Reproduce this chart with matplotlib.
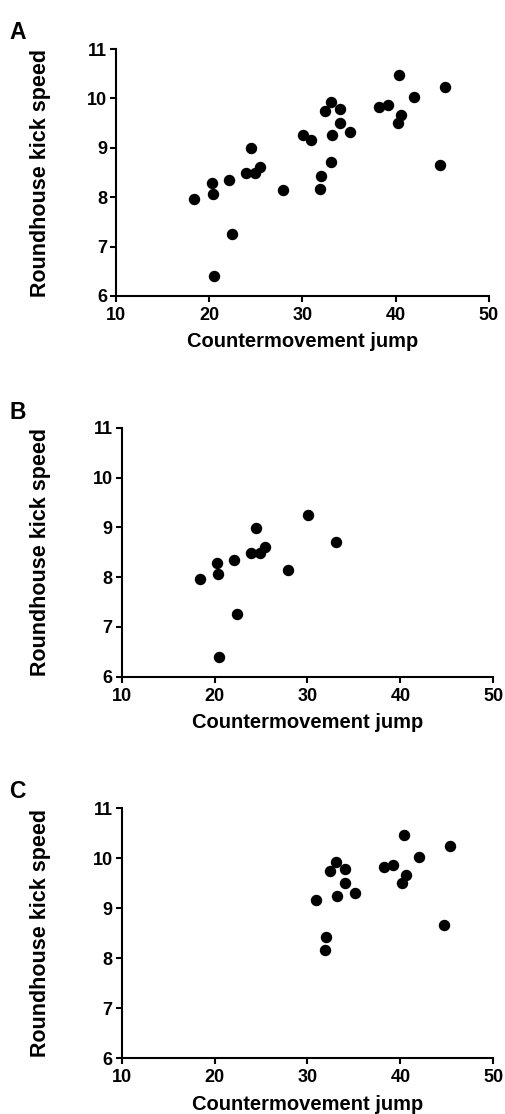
import matplotlib
matplotlib.use('Agg')
from matplotlib import pyplot as plt

plt.rcParams['font.family'] = ['Liberation Sans', 'DejaVu Sans']
plt.rcParams['font.weight'] = 'bold'

# group B: lower jump values
JumpB = [18.4, 20.3, 20.4, 20.5, 22.1, 22.4, 23.9, 24.5, 24.9, 25.4, 27.9, 30.1, 33.1]
KickB = [7.97, 8.29, 8.07, 6.40, 8.34, 7.25, 8.49, 8.99, 8.49, 8.61, 8.14, 9.26, 8.71]

# group C: higher jump values
JumpC = [30.9, 31.9, 32.0, 32.4, 33.1, 33.2, 34.0, 34.0, 35.1, 38.2, 39.2, 40.4, 40.2, 40.6, 42.0, 44.7, 45.3]
KickC = [9.16, 8.16, 8.43, 9.75, 9.92, 9.25, 9.78, 9.51, 9.31, 9.82, 9.86, 10.47, 9.51, 9.66, 10.02, 8.66, 10.24]

# panel A shows everyone
JumpA = JumpB + JumpC
KickA = KickB + KickC

xticks = [10, 20, 30, 40, 50]
yticks = [6, 7, 8, 9, 10, 11]

fig = plt.figure(figsize=(5.05, 11.14), dpi=100)

panels = [
    ('A', JumpA, KickA, [0.2297, 0.7343, 0.7386, 0.2217], 0.981),
    ('B', JumpB, KickB, [0.241, 0.3926, 0.7358, 0.2232], 0.640),
    ('C', JumpC, KickC, [0.241, 0.050, 0.7358, 0.2244], 0.300),
]

for letter, xs, ys, rect, ly in panels:
    ax = fig.add_axes(rect)
    ax.scatter(xs, ys, s=52, color='black', clip_on=False, zorder=3)
    ax.set_xlim(10, 50)
    ax.set_ylim(6, 11)
    ax.set_xticks(xticks)
    ax.set_yticks(yticks)
    for side in ['top', 'right']:
        ax.spines[side].set_visible(False)
    for side in ['left', 'bottom']:
        ax.spines[side].set_linewidth(1.5)
    ax.tick_params(direction='out', length=4, width=1.5, labelsize=13)
    ax.tick_params(axis='x', pad=4)
    ax.tick_params(axis='y', pad=2.5)
    for lab in ax.get_xticklabels() + ax.get_yticklabels():
        lab.set_fontweight('bold')
    ax.set_xlabel('Countermovement jump', fontsize=14.5, fontweight='bold', labelpad=6)
    ax.set_ylabel('Roundhouse kick speed', fontsize=15.5, fontweight='bold')
    left_px = rect[0] * 505
    width_px = rect[2] * 505
    ax.yaxis.set_label_coords((51 - left_px) / width_px, 0.5)
    fig.text(0.018, ly, letter, fontsize=16.5, fontweight='bold', va='top', ha='left')

fig.savefig('out.png', dpi=100)
